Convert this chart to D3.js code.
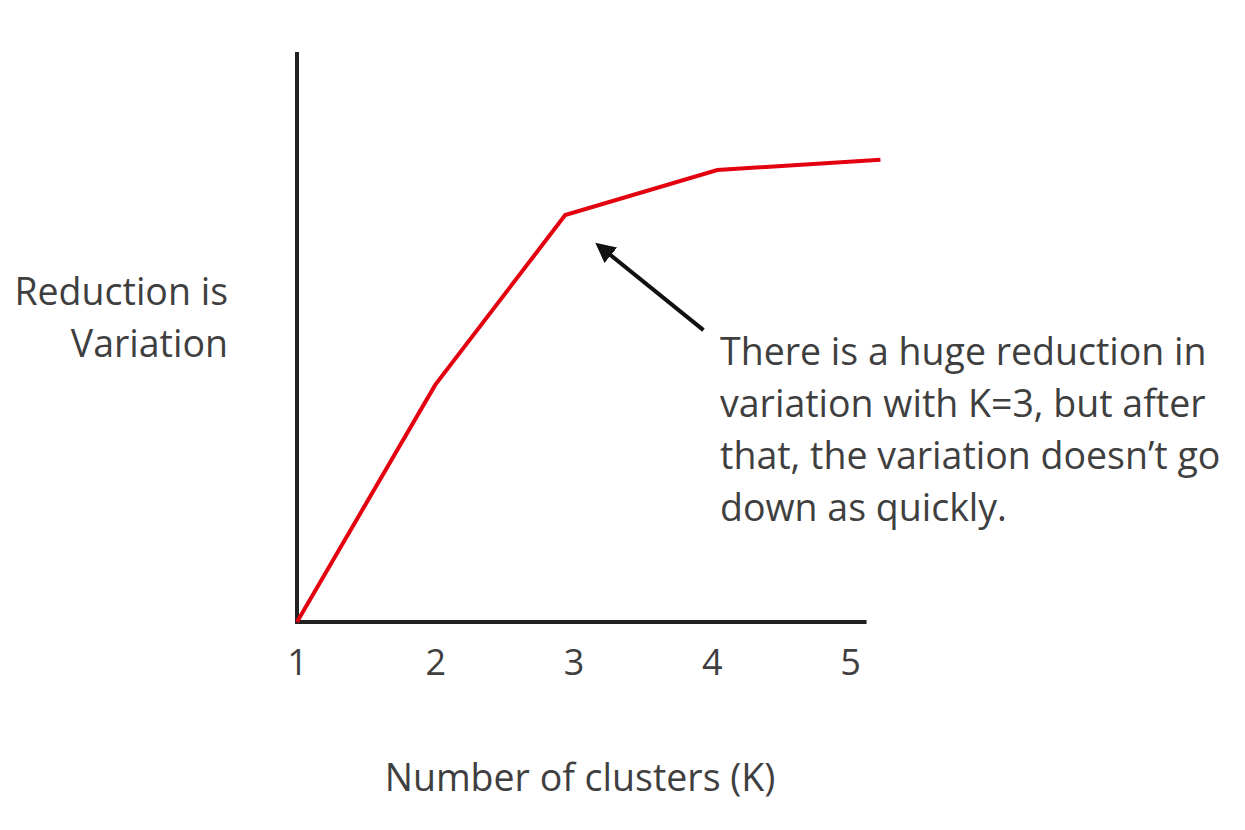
<!DOCTYPE html>
<html>
<head>
<meta charset="utf-8">
<script src="https://cdn.jsdelivr.net/npm/d3@7"></script>
<style>
  html, body { margin: 0; padding: 0; background: #fff; }
  svg text { font-family: 'Open Sans', 'Noto Sans', sans-serif; fill: #3f3f3f; }
</style>
</head>
<body>
<div id="viz"></div>
<script>
// values
const clusters = [1, 2, 2.94, 4.04, 5.22];
const reduction = [0, 41.6, 71.4, 79.3, 81.1];
const tickLabels = [1, 2, 3, 4, 5];
const yLabel = ['Reduction is', 'Variation'];
const xLabel = 'Number of clusters (K)';
const noteLines = [
  'There is a huge reduction in',
  'variation with K=3, but after',
  'that, the variation doesn\u2019t go',
  'down as quickly.'
];
const arrowFrom = [3.94, 51.2];
const arrowTo = [3.18, 66.1];

const width = 1245, height = 830;

const svg = d3.select('#viz').append('svg')
  .attr('width', width)
  .attr('height', height);

const x = d3.scaleLinear().domain([1, 5]).range([297, 850]);
const y = d3.scaleLinear().domain([0, 100]).range([622, 52]);

svg.append('defs').append('marker')
  .attr('id', 'head')
  .attr('viewBox', '0 0 10 10')
  .attr('refX', 8).attr('refY', 5)
  .attr('markerWidth', 5).attr('markerHeight', 5)
  .attr('orient', 'auto')
  .append('path')
  .attr('d', 'M0,0 L10,5 L0,10 z')
  .attr('fill', '#111');

// axes
svg.append('line')
  .attr('x1', x(1)).attr('x2', x(1))
  .attr('y1', y(0)).attr('y2', y(100))
  .attr('stroke', '#222').attr('stroke-width', 4);

svg.append('line')
  .attr('x1', x(1) - 2).attr('x2', x(5.12))
  .attr('y1', y(0)).attr('y2', y(0))
  .attr('stroke', '#222').attr('stroke-width', 4);

const xAxis = svg.append('g')
  .attr('transform', 'translate(0,' + (y(0) + 24) + ')')
  .call(d3.axisBottom(x).tickValues(tickLabels).tickSize(0).tickFormat(d3.format('d')));
xAxis.select('.domain').remove();
xAxis.selectAll('text')
  .attr('font-size', 36)
  .style('font-family', "'Open Sans', sans-serif")
  .attr('fill', '#3f3f3f');

// curve
const line = d3.line()
  .x((d, i) => x(clusters[i]))
  .y((d) => y(d));

svg.append('path')
  .datum(reduction)
  .attr('fill', 'none')
  .attr('stroke', '#e3000f')
  .attr('stroke-width', 4)
  .attr('stroke-linejoin', 'miter')
  .attr('d', line);

// arrow
svg.append('line')
  .attr('x1', x(arrowFrom[0])).attr('y1', y(arrowFrom[1]))
  .attr('x2', x(arrowTo[0])).attr('y2', y(arrowTo[1]))
  .attr('stroke', '#111').attr('stroke-width', 4)
  .attr('marker-end', 'url(#head)');

// labels
svg.append('text')
  .attr('text-anchor', 'end')
  .attr('font-size', 37.5)
  .selectAll('tspan')
  .data(yLabel)
  .join('tspan')
  .attr('x', 228)
  .attr('y', (d, i) => 305 + i * 52)
  .text((d) => d);

svg.append('text')
  .attr('x', 580).attr('y', 791)
  .attr('text-anchor', 'middle')
  .attr('font-size', 37.5)
  .text(xLabel);

svg.append('text')
  .attr('font-size', 37.5)
  .selectAll('tspan')
  .data(noteLines)
  .join('tspan')
  .attr('x', x(4.06))
  .attr('y', (d, i) => 365 + i * 52)
  .text((d) => d);
</script>
</body>
</html>
